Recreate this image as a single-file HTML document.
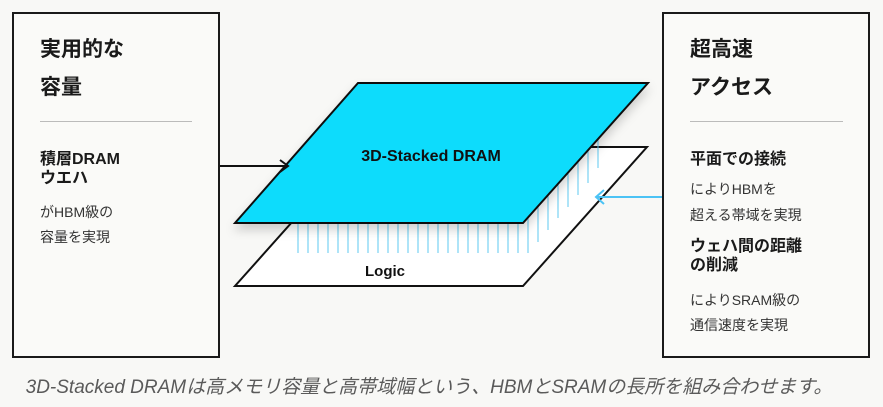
<!DOCTYPE html>
<html><head><meta charset="utf-8"><style>
body{margin:0;width:883px;height:407px;background:#f8f8f6;position:relative;overflow:hidden;font-family:"Liberation Sans","Noto Sans CJK JP",sans-serif;color:#1a1a1a}
.box{position:absolute;border:2px solid #1a1a1a;box-sizing:border-box;background:#fafaf8}
.t{position:absolute;white-space:nowrap}
.h{font-size:21px;font-weight:bold}
.s{font-size:16px;font-weight:bold;line-height:19px}
.b{font-size:14px;color:#333}
.hr{position:absolute;height:1px;background:#bbb}
</style></head><body>
<div class="box" style="left:12px;top:12px;width:208px;height:346px"></div>
<div class="box" style="left:662px;top:12px;width:208px;height:346px"></div>
<div class="t h" style="left:40px;top:33px">実用的な</div>
<div class="t h" style="left:40px;top:71px">容量</div>
<div class="hr" style="left:40px;top:121px;width:152px"></div>
<div class="t s" style="left:40px;top:150px">積層DRAM<br>ウエハ</div>
<div class="t b" style="left:40px;top:202px">がHBM級の</div>
<div class="t b" style="left:40px;top:227px">容量を実現</div>

<div class="t h" style="left:690px;top:33px">超高速</div>
<div class="t h" style="left:690px;top:71px">アクセス</div>
<div class="hr" style="left:690px;top:121px;width:153px"></div>
<div class="t s" style="left:690px;top:150px">平面での接続</div>
<div class="t b" style="left:690px;top:179px">によりHBMを</div>
<div class="t b" style="left:690px;top:205px">超える帯域を実現</div>
<div class="t s" style="left:690px;top:237px">ウェハ間の距離<br>の削減</div>
<div class="t b" style="left:690px;top:290px">によりSRAM級の</div>
<div class="t b" style="left:690px;top:315px">通信速度を実現</div>

<svg width="883" height="407" style="position:absolute;left:0;top:0">
<defs><filter id="sh" x="-20%" y="-20%" width="140%" height="140%"><feDropShadow dx="0" dy="6" stdDeviation="5" flood-color="#000" flood-opacity="0.18"/></filter></defs>
<polygon points="359,147 647,147 523,286 235,286" fill="#fff" stroke="#111" stroke-width="2"/>
<g stroke="#5cc8f0" stroke-width="1">
<path d="M298,223V253M308,223V253M318,223V253M328,223V253M338,223V253M348,223V253M358,223V253M368,223V253M378,223V253M388,223V253M398,223V253M408,223V253M418,223V253M428,223V253M438,223V253M448,223V253M458,223V253M468,223V253M478,223V253M488,223V253M498,223V253M508,223V253M518,223V253M528,200V253"/>
<path d="M538,190V242M548,180V230M558,170V218M568,160V207M578,150V195M588,140V183M598,138V168"/>
</g>
<polygon points="358,83 648,83 523,223 235,223" fill="#0cdcfc" stroke="#111" stroke-width="2" filter="url(#sh)"/>
<text x="431" y="161" font-size="16" font-weight="bold" text-anchor="middle" font-family="Liberation Sans,sans-serif" fill="#111">3D-Stacked DRAM</text>
<text x="385" y="276" font-size="15" font-weight="bold" text-anchor="middle" font-family="Liberation Sans,sans-serif" fill="#111">Logic</text>
<path d="M220,166H288M280,160L288,166L280,172" stroke="#111" stroke-width="2" fill="none"/>
<path d="M662,197H596M604,190L596,197L604,204" stroke="#4cc3f5" stroke-width="2" fill="none"/>
</svg>
<div class="t" style="left:0;width:858px;text-align:center;top:372px;font-size:19px;font-style:italic;color:#5a5a5a">3D-Stacked DRAMは高メモリ容量と高帯域幅という、HBMとSRAMの長所を組み合わせます。</div>
</body></html>
